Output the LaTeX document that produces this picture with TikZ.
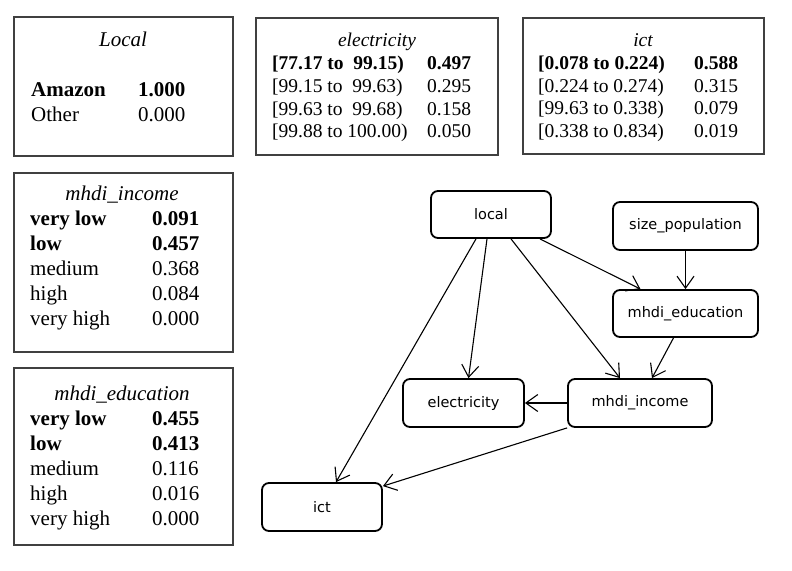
\documentclass[tikz,border=0pt]{standalone}
\usepackage{fontspec}
\setmainfont{Liberation Serif}
\newfontfamily\nodefont{DejaVu Sans}
\usetikzlibrary{arrows.meta}
\tikzset{
  tbox/.style={draw=black!75, line width=1.2pt, inner sep=0pt},
  ttl/.style={anchor=base, inner sep=0pt, font=\itshape\fontsize{#1}{#1}\selectfont},
  cell/.style={anchor=base west, inner sep=0pt, font=\fontsize{#1}{#1}\selectfont},
  bcell/.style={anchor=base west, inner sep=0pt, font=\bfseries\fontsize{#1}{#1}\selectfont},
  gnode/.style={draw=black, line width=1.8pt, rounded corners=7pt, inner sep=0pt,
     font=\nodefont\fontsize{14.5}{14.5}\selectfont},
  arr/.style={line width=1.1pt, -{Straight Barb[length=12pt,width=17pt]}}
}
\begin{document}
\begin{tikzpicture}[x=1pt,y=-1pt]
\useasboundingbox (0,0) rectangle (792,570);
% ---------- Local table
\node[tbox, minimum width=219pt, minimum height=139pt] (tLocal) at (123.5,86.5) {};
\node[ttl=21] (tLocalT) at (123,46) {Local};
\node[bcell=21] (tLocalA) at (31,96) {Amazon};
\node[bcell=21] (tLocalAv) at (138,96) {1.000};
\node[cell=21] (tLocalO) at (31,121) {Other};
\node[cell=21] (tLocalOv) at (138,121) {0.000};
% ---------- electricity table
\node[tbox, minimum width=242pt, minimum height=137pt] (tElec) at (377,86.5) {};
\node[ttl=19.5] (tElecT) at (377,46) {electricity};
\node[bcell=19.5] (tElec1) at (272,69) {[77.17 to~~99.15)};
\node[bcell=19.5] (tElec1v) at (427,69) {0.497};
\node[cell=19.5] (tElec2) at (272,92) {[99.15 to~~99.63)};
\node[cell=19.5] (tElec2v) at (427,92) {0.295};
\node[cell=19.5] (tElec3) at (272,115) {[99.63 to~~99.68)};
\node[cell=19.5] (tElec3v) at (427,115) {0.158};
\node[cell=19.5] (tElec4) at (272,137) {[99.88 to 100.00)};
\node[cell=19.5] (tElec4v) at (427,137) {0.050};
% ---------- ict table
\node[tbox, minimum width=241pt, minimum height=136pt] (tIct) at (643.5,86) {};
\node[ttl=19.5] (tIctT) at (643,46) {ict};
\node[bcell=19.5] (tIct1) at (538,69) {[0.078 to 0.224)};
\node[bcell=19.5] (tIct1v) at (694,69) {0.588};
\node[cell=19.5] (tIct2) at (538,92) {[0.224 to 0.274)};
\node[cell=19.5] (tIct2v) at (694,92) {0.315};
\node[cell=19.5] (tIct3) at (538,114) {[99.63 to 0.338)};
\node[cell=19.5] (tIct3v) at (694,114) {0.079};
\node[cell=19.5] (tIct4) at (538,137) {[0.338 to 0.834)};
\node[cell=19.5] (tIct4v) at (694,137) {0.019};
% ---------- mhdi_income table
\node[tbox, minimum width=219pt, minimum height=179pt] (tInc) at (123.5,262.5) {};
\node[ttl=21] (tIncT) at (122,200) {mhdi\_income};
\node[bcell=21] (tInc1) at (30,225) {very low};
\node[bcell=21] (tInc1v) at (152,225) {0.091};
\node[bcell=21] (tInc2) at (30,250) {low};
\node[bcell=21] (tInc2v) at (152,250) {0.457};
\node[cell=21] (tInc3) at (30,275) {medium};
\node[cell=21] (tInc3v) at (152,275) {0.368};
\node[cell=21] (tInc4) at (30,300) {high};
\node[cell=21] (tInc4v) at (152,300) {0.084};
\node[cell=21] (tInc5) at (30,325) {very high};
\node[cell=21] (tInc5v) at (152,325) {0.000};
% ---------- mhdi_education table
\node[tbox, minimum width=219pt, minimum height=177pt] (tEdu) at (123.5,456.5) {};
\node[ttl=21] (tEduT) at (122,400) {mhdi\_education};
\node[bcell=21] (tEdu1) at (30,425) {very low};
\node[bcell=21] (tEdu1v) at (152,425) {0.455};
\node[bcell=21] (tEdu2) at (30,450) {low};
\node[bcell=21] (tEdu2v) at (152,450) {0.413};
\node[cell=21] (tEdu3) at (30,475) {medium};
\node[cell=21] (tEdu3v) at (152,475) {0.116};
\node[cell=21] (tEdu4) at (30,500) {high};
\node[cell=21] (tEdu4v) at (152,500) {0.016};
\node[cell=21] (tEdu5) at (30,525) {very high};
\node[cell=21] (tEdu5v) at (152,525) {0.000};
% ---------- graph nodes
\node[gnode, minimum width=120pt, minimum height=47pt] (local) at (491,214.5) {local};
\node[gnode, minimum width=145pt, minimum height=48pt] (sizepop) at (685.5,226) {size\_population};
\node[gnode, minimum width=145pt, minimum height=47pt] (medu) at (685.5,313.5) {mhdi\_education};
\node[gnode, minimum width=121pt, minimum height=48pt] (elec) at (463.5,403) {electricity};
\node[gnode, minimum width=144pt, minimum height=48pt] (minc) at (640,403) {mhdi\_income};
\node[gnode, minimum width=120pt, minimum height=48pt] (ict) at (322,507) {ict};
% ---------- edges
\draw[arr] ([xshift=-15pt]local.south) -- ([xshift=14pt]ict.north);
\draw[arr] ([xshift=-4pt]local.south) -- ([xshift=5pt]elec.north);
\draw[arr] ([xshift=20pt]local.south) -- ([xshift=-20pt]minc.north);
\draw[arr] ([xshift=49pt]local.south) -- ([xshift=-45pt]medu.north);
\draw[arr] (sizepop.south) -- (medu.north);
\draw[arr] ([xshift=-12pt]medu.south) -- ([xshift=12pt]minc.north);
\draw[arr] (minc.west) -- (elec.east);
\draw[arr] (minc.south west) -- ([yshift=-4pt]ict.north east);
\end{tikzpicture}
\end{document}
